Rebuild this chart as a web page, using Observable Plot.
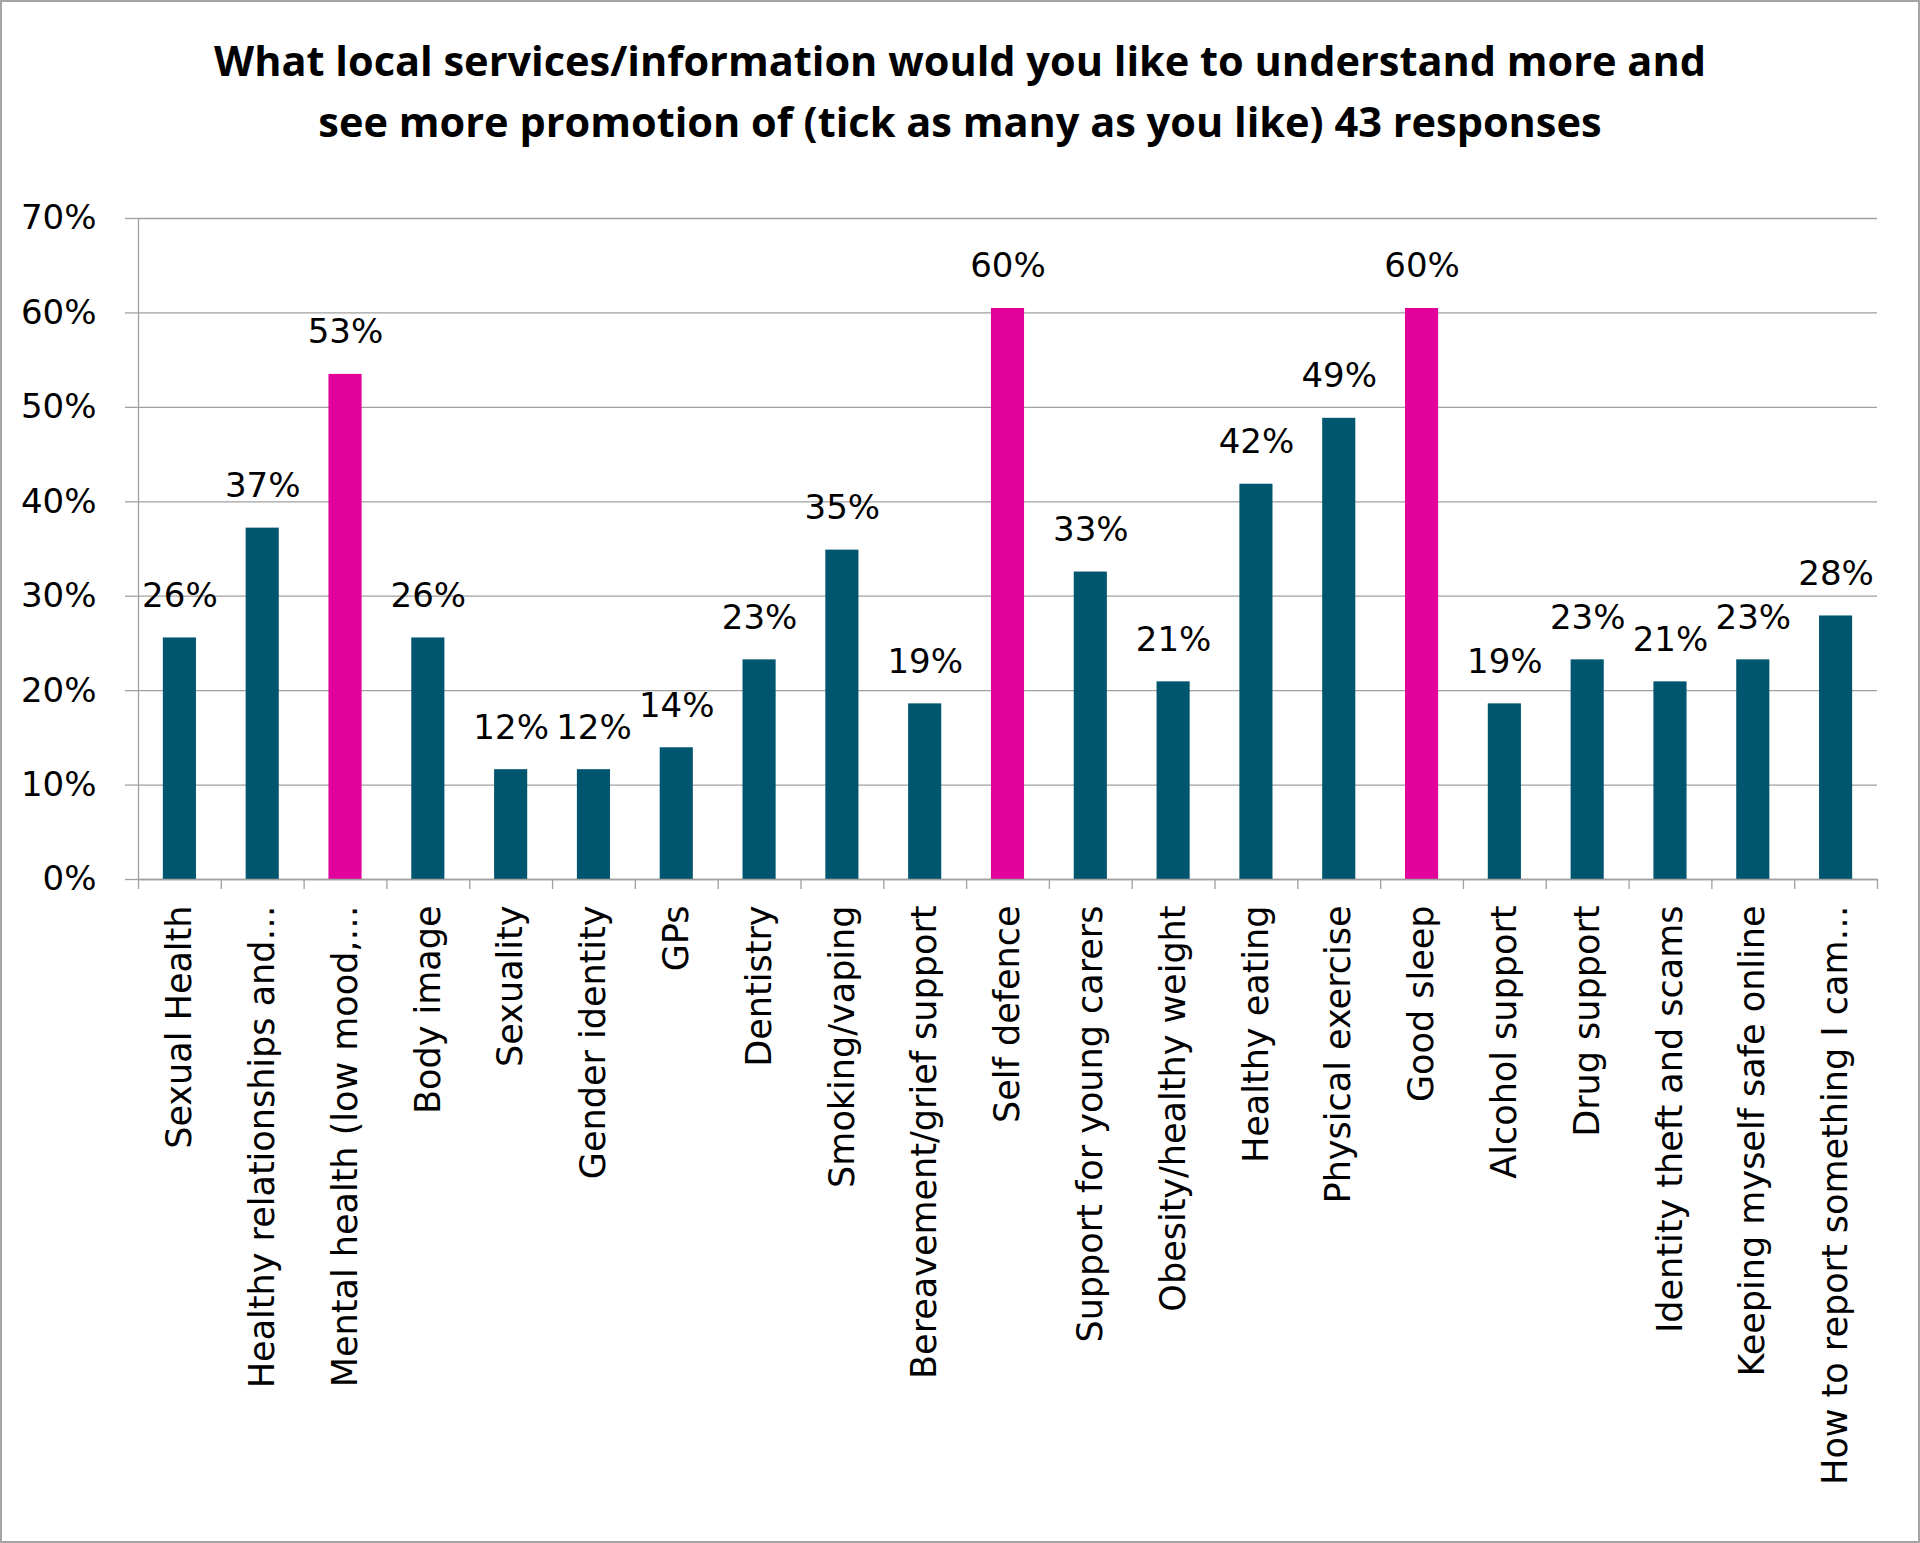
<!DOCTYPE html>
<html>
<head>
<meta charset="utf-8">
<script src="https://cdn.jsdelivr.net/npm/d3@7"></script>
<script src="https://cdn.jsdelivr.net/npm/@observablehq/plot@0.6"></script>
<style>
  body { margin: 0; background: #fff; }
  #wrap { position: relative; width: 1920px; height: 1543px; background: #fff; overflow: hidden; }
  #border { position: absolute; left: 0; top: 0; right: 0; bottom: 0; border: 2px solid #a5a5a5; pointer-events: none; }
  #title { height: 170px; box-sizing: border-box; padding-top: 30px; text-align: center; white-space: nowrap;
           font-family: "Open Sans", sans-serif; font-weight: 700; font-size: 41.5px; line-height: 61px; color: #000; }
  #chart svg { display: block; }
</style>
</head>
<body>
<div id="wrap">
  <div id="title">What local services/information would you like to understand more and<br>see more promotion of (tick as many as you like) 43 responses</div>
  <div id="chart"></div>
  <div id="border"></div>
</div>
<script>
const categories = [
  "Sexual Health",
  "Healthy relationships and…",
  "Mental health (low mood,…",
  "Body image",
  "Sexuality",
  "Gender identity",
  "GPs",
  "Dentistry",
  "Smoking/vaping",
  "Bereavement/grief support",
  "Self defence",
  "Support for young carers",
  "Obesity/healthy weight",
  "Healthy eating",
  "Physical exercise",
  "Good sleep",
  "Alcohol support",
  "Drug support",
  "Identity theft and scams",
  "Keeping myself safe online",
  "How to report something I cam…"
];
const shares = [0.2558, 0.3721, 0.5349, 0.2558, 0.1163, 0.1163, 0.1395, 0.2326, 0.3488, 0.1860,
                0.6047, 0.3256, 0.2093, 0.4186, 0.4884, 0.6047, 0.1860, 0.2326, 0.2093, 0.2326, 0.2791];
const highlighted = ["Mental health (low mood,…", "Self defence", "Good sleep"];
const yTicks = [0, 0.1, 0.2, 0.3, 0.4, 0.5, 0.6, 0.7];

const data = categories.map((category, i) => ({category, share: shares[i]}));

const W = 1920, H = 1373, ML = 138, MR = 43, MT = 48, MB = 664;
const step = (W - ML - MR) / categories.length;
const grid = "#a0a0a0";
const pct = d3.format(".0%");

const chart = Plot.plot({
  width: W, height: H,
  marginLeft: ML, marginRight: MR, marginTop: MT, marginBottom: MB,
  style: {fontFamily: "DejaVu Sans", fontSize: "34px", color: "#000", background: "#fff"},
  x: {domain: categories, paddingInner: 0.6, paddingOuter: 0.3, round: false, label: null},
  y: {domain: [0, 0.7], label: null},
  color: {type: "identity"},
  marks: [
    Plot.gridY(yTicks, {stroke: grid, strokeOpacity: 1, strokeWidth: 1.3}),
    Plot.axisY(yTicks, {tickSize: 13, tickPadding: 29, tickFormat: pct, stroke: grid, strokeWidth: 1.3, fill: "#000", fontSize: 34, label: null}),
    Plot.barY(data, {x: "category", y: "share", fill: d => highlighted.includes(d.category) ? "#E2019A" : "#00566F"}),
    Plot.ruleY([0], {stroke: grid, strokeWidth: 1.3}),
    Plot.ruleX([categories[0]], {x: d => d, y1: () => 0.7, y2: () => 0, dx: -step / 2, insetBottom: -10, stroke: grid, strokeWidth: 1.3}),
    Plot.ruleX(categories.slice(1), {x: d => d, y1: () => 0, y2: () => 0, dx: -step / 2, insetBottom: -10, stroke: grid, strokeWidth: 1.3}),
    Plot.ruleX([categories[categories.length - 1]], {x: d => d, y1: () => 0, y2: () => 0, dx: step / 2, insetBottom: -10, stroke: grid, strokeWidth: 1.3}),
    Plot.text(data, {x: "category", y: "share", text: d => pct(d.share), lineAnchor: "bottom", dy: -31, fontSize: 34, fill: "#000"}),
    Plot.axisX({tickSize: 0, tickRotate: -90, tickPadding: 26, fontSize: 35, fill: "#000", label: null})
  ]
});
document.getElementById("chart").appendChild(chart);
</script>
</body>
</html>
